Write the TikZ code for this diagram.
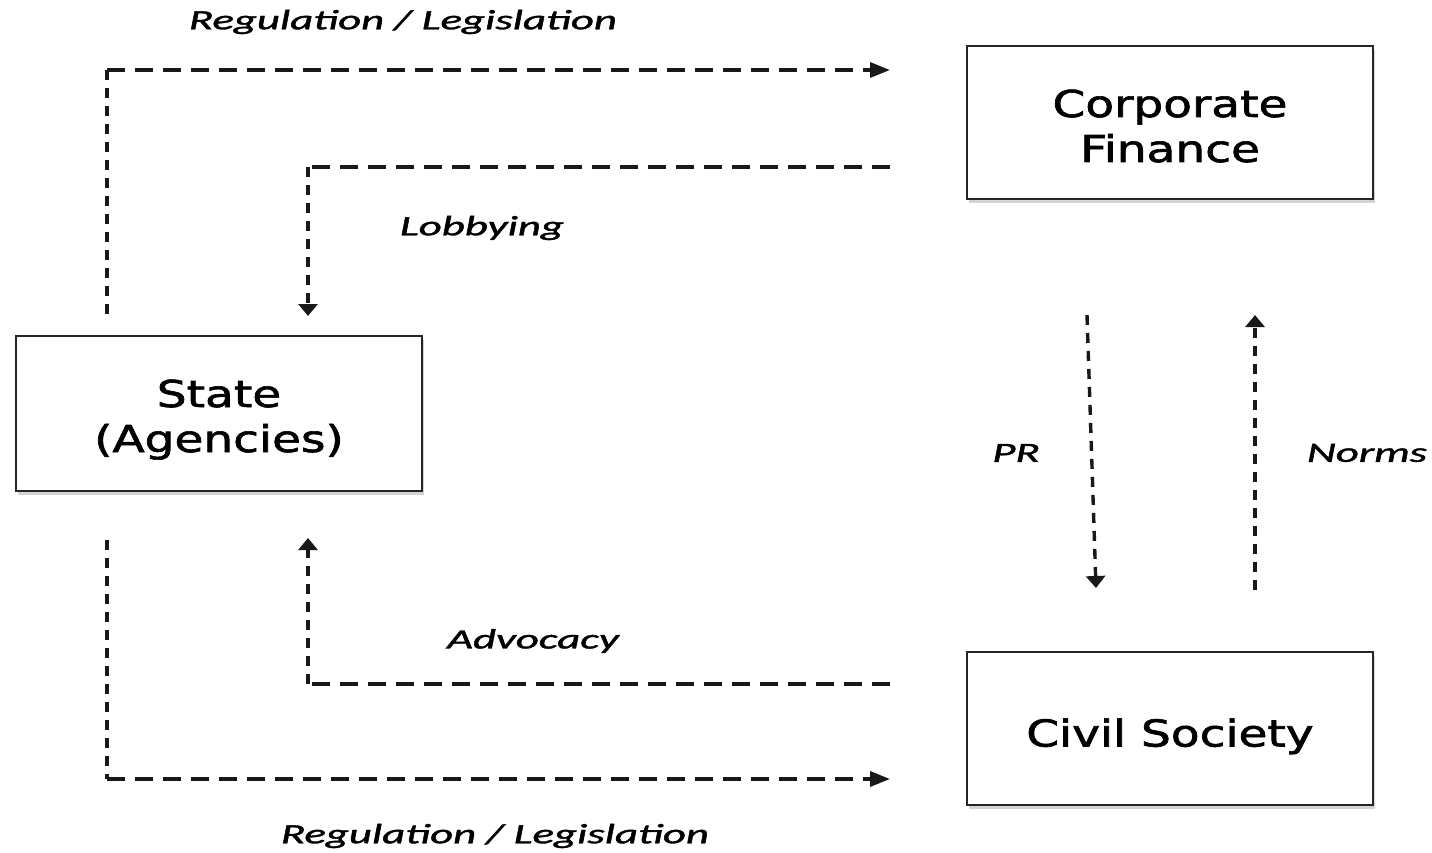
\documentclass[tikz,border=0pt]{standalone}
\usepackage{fontspec}
\setmainfont{DejaVu Sans}
\newfontfamily\boxfont{DejaVu Sans}[BoldFont={DejaVu Sans},BoldFeatures={FakeBold=1.6}]
\newfontfamily\labelfont{Carlito}[ItalicFont={Carlito Italic},ItalicFeatures={FakeBold=1.2}]
\usetikzlibrary{arrows.meta,shadows}
\tikzset{
  boxnode/.style={draw=black!85, line width=2pt, fill=white, minimum width=406pt, minimum height=153pt, inner sep=0pt,
    drop shadow={opacity=0.35, shadow xshift=2pt, shadow yshift=-4pt}},
  hline/.style={line width=3.4pt, dash pattern=on 18pt off 10pt, black!90},
  vline/.style={line width=3.4pt, dash pattern=on 10pt off 8pt, black!90},
  harrow/.style={-{Triangle[length=20pt,width=15pt]}},
  varrow/.style={-{Triangle[length=12pt,width=19pt]}},
  lbl/.style={inner sep=0pt, font=\labelfont\itshape\fontsize{28}{32}\selectfont},
}
\newcommand{\boxtext}[2][8pt]{\raisebox{-#1}[\height][\depth]{\scalebox{1.27}[1]{\boxfont\bfseries\fontsize{37}{45}\selectfont\begin{tabular}{@{}c@{}}#2\end{tabular}}}}
\newcommand{\lbltext}[1]{\scalebox{1.6}[1]{#1}}
\begin{document}
\begin{tikzpicture}[x=1pt,y=-1pt]
\useasboundingbox (0,0) rectangle (1432,853);
\node[boxnode] (cf) at (1170,122.5) {\boxtext{Corporate\\Finance}};
\node[boxnode, minimum height=155pt] (st) at (219,413.5) {\boxtext[7pt]{State\\(Agencies)}};
\node[boxnode] (cs) at (1170,728.5) {\boxtext[9pt]{Civil Society}};
% top regulation
\coordinate (r1s) at (107,314);
\coordinate (r1c) at (107,70);
\coordinate (r1e) at (890,70);
\draw[vline] (r1s) -- (r1c);
\draw[hline,harrow] (r1c) -- (r1e);
% lobbying
\coordinate (lbs) at (890,167);
\coordinate (lbc) at (308,167);
\coordinate (lbe) at (308,316);
\draw[hline] (lbs) -- (lbc);
\draw[vline,varrow] (lbc) -- (lbe);
% PR
\coordinate (prs) at (1087,315);
\coordinate (pre) at (1096,588);
\draw[vline,varrow] (prs) -- (pre);
% Norms
\coordinate (nos) at (1255,590);
\coordinate (noe) at (1255,315);
\draw[vline,varrow] (nos) -- (noe);
% advocacy
\coordinate (avs) at (890,684);
\coordinate (avc) at (308,684);
\coordinate (ave) at (308,538);
\draw[hline] (avs) -- (avc);
\draw[vline,varrow] (avc) -- (ave);
% bottom regulation
\coordinate (r2s) at (107,540);
\coordinate (r2c) at (107,779);
\coordinate (r2e) at (890,779);
\draw[vline] (r2s) -- (r2c);
\draw[hline,harrow] (r2c) -- (r2e);
% labels
\node[lbl] (l1) at (403,22) {\lbltext{Regulation / Legislation}};
\node[lbl] (l2) at (482,228) {\lbltext{Lobbying}};
\node[lbl] (l3) at (1016,453) {\lbltext{PR}};
\node[lbl] (l4) at (1367,453) {\lbltext{Norms}};
\node[lbl] (l5) at (533,641) {\lbltext{Advocacy}};
\node[lbl] (l6) at (495,836) {\lbltext{Regulation / Legislation}};
\end{tikzpicture}
\end{document}
